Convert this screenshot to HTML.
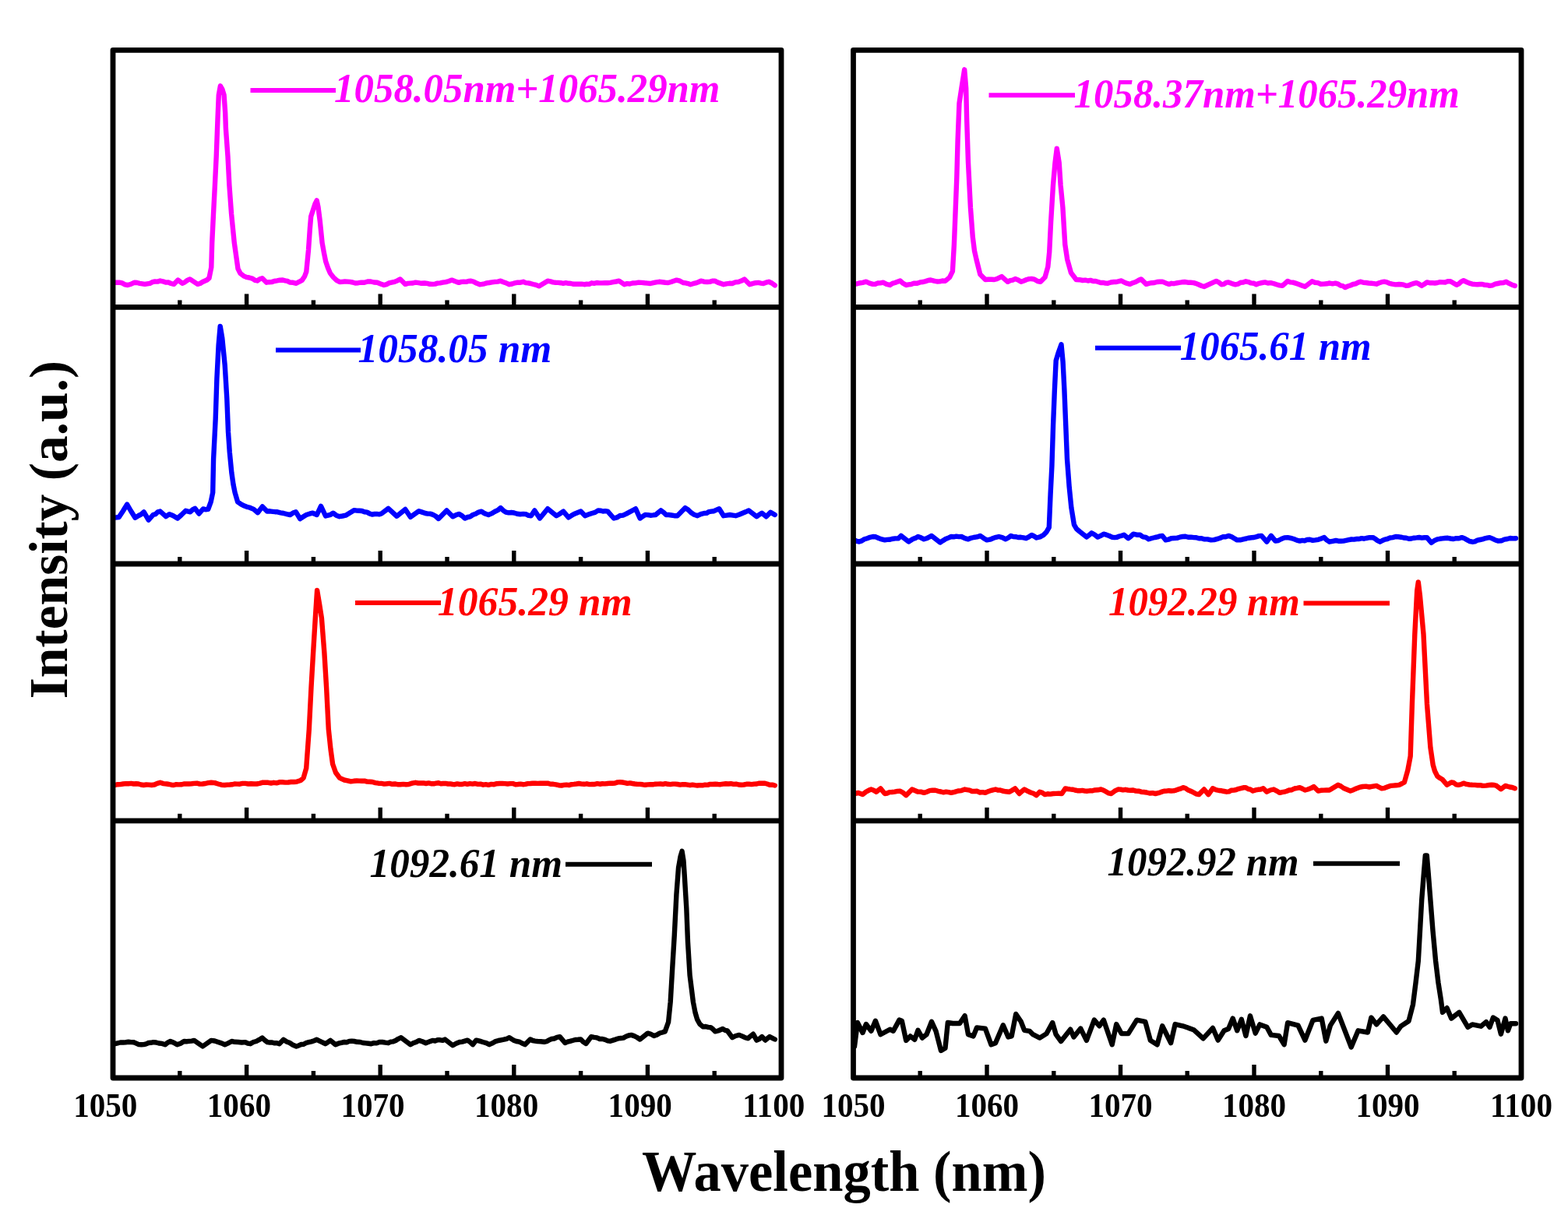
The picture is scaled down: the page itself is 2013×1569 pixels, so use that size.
<!DOCTYPE html>
<html><head><meta charset="utf-8"><title>Spectra</title>
<style>html,body{margin:0;padding:0;background:#fff;overflow:hidden;}svg{display:block;}</style>
</head><body>
<svg width="2013" height="1569" viewBox="0 0 2013 1569">
<rect width="2013" height="1569" fill="#fff"/>
<path d="M147.5,362.7 153.1,362.7 156.7,363.4 160.4,365.3 164.0,366.0 168.4,364.7 172.8,362.7 176.1,363.0 179.4,363.8 182.6,364.3 185.9,364.9 189.2,364.3 192.5,363.8 195.8,362.2 199.0,361.4 202.3,361.6 205.6,360.5 209.1,361.3 212.6,362.6 216.1,362.5 219.6,364.0 223.1,364.9 228.5,359.5 234.0,363.8 237.3,362.3 240.5,359.9 243.8,358.4 253.7,364.9 256.9,364.0 260.0,362.0 265.7,359.5 268.5,357.0 271.3,343.2 272.2,311.8 274.0,274.8 275.9,237.9 277.7,200.9 279.6,150.0 280.8,122.0 282.9,110.3 285.3,114.5 287.6,122.0 289.2,145.0 289.9,165.0 292.5,200.9 294.4,237.9 297.1,274.8 300.8,311.8 305.5,345.1 308.5,351.0 312.8,354.3 316.4,355.9 320.0,356.5 323.8,357.6 327.6,359.9 330.2,360.5 333.4,358.3 336.7,357.3 342.2,362.7 345.5,362.2 348.7,362.1 352.0,361.0 355.7,360.4 359.3,359.7 363.0,359.5 366.0,360.4 369.0,360.9 372.0,362.5 376.2,362.8 380.4,363.8 384.0,361.8 387.7,359.9 391.0,355.0 393.3,348.8 396.0,321.0 397.9,293.3 399.2,278.0 401.8,270.0 404.4,262.0 406.7,257.3 408.5,266.0 410.8,284.0 413.6,311.8 416.0,325.0 418.2,335.8 421.0,344.0 423.8,350.6 428.0,356.0 432.1,359.9 436.0,362.0 439.3,361.9 442.7,361.4 446.0,361.6 449.3,361.9 452.7,362.5 456.0,363.5 460.0,363.2 463.9,362.7 467.9,362.7 471.9,361.5 476.0,361.5 480.1,362.5 484.3,362.7 488.6,364.4 493.0,366.0 496.3,365.1 499.5,363.4 502.8,362.7 506.5,361.9 510.1,360.3 513.8,358.4 520.3,364.9 523.6,363.9 526.8,363.6 530.1,363.5 533.4,362.7 537.3,363.2 541.1,363.8 545.0,363.5 548.4,363.9 551.9,364.8 555.3,364.9 558.6,364.6 561.8,363.6 565.1,363.4 568.4,362.7 572.3,362.1 576.2,361.0 580.1,359.6 583.1,360.7 586.1,361.9 589.1,362.9 592.2,361.9 595.3,361.7 598.5,361.9 601.6,361.0 604.7,360.7 608.4,361.8 612.2,363.8 615.9,365.2 618.9,364.9 622.0,364.3 625.0,363.4 628.0,363.0 631.7,362.4 635.4,361.9 639.0,361.6 642.7,360.7 646.4,362.2 650.2,363.6 653.9,365.2 657.5,364.5 661.1,363.3 664.6,362.6 668.2,362.7 671.8,361.8 674.9,363.1 677.9,363.4 681.0,364.0 684.6,365.0 688.3,365.9 691.9,367.4 703.1,360.7 706.5,361.3 709.8,362.4 713.1,362.7 716.5,362.9 719.8,363.2 723.1,363.8 726.4,363.2 729.7,363.8 733.0,364.0 736.4,364.8 739.8,364.6 743.2,364.7 746.6,364.7 750.0,365.2 753.2,364.8 756.4,364.9 759.6,363.3 762.8,363.8 766.0,363.0 769.5,363.4 773.0,363.4 776.6,363.2 780.1,363.3 783.6,362.9 787.3,362.2 791.0,361.5 794.7,360.7 798.0,362.9 801.4,365.2 804.9,364.1 808.5,364.5 812.0,363.5 815.9,363.4 819.9,362.7 823.8,362.9 827.5,363.3 831.3,363.6 835.0,364.0 838.7,363.1 842.5,362.3 846.2,361.8 850.1,362.2 854.1,362.7 858.0,363.0 861.5,362.0 865.0,360.7 868.5,359.6 872.8,360.7 877.0,363.0 880.1,363.4 883.3,364.1 886.4,365.2 889.8,364.2 893.1,363.4 896.4,362.2 899.8,360.7 903.9,361.7 908.0,362.0 911.2,361.9 914.5,360.8 917.7,360.7 921.4,362.6 925.2,363.9 928.9,365.2 932.6,364.3 936.4,363.8 940.1,364.0 944.0,362.4 948.0,362.0 951.9,360.6 955.7,358.5 962.4,365.2 966.1,364.1 969.9,363.2 973.6,362.9 976.8,363.6 980.0,364.0 983.5,362.7 987.0,361.8 990.9,363.5 994.8,366.3" fill="none" stroke="#ff00ff" stroke-width="6.4" stroke-linejoin="round" stroke-linecap="round"/>
<path d="M147.5,664.7 152.7,664.0 158.0,656.0 163.1,647.6 168.0,656.0 173.5,664.7 178.0,662.0 181.3,660.4 184.7,657.3 190.7,667.7 196.6,661.0 199.6,660.2 202.6,657.3 205.6,656.5 213.0,663.2 217.5,660.2 222.0,662.0 227.9,665.5 233.0,661.0 238.4,655.8 244.3,657.3 247.3,654.4 250.3,652.8 255.5,659.5 260.7,653.5 263.9,654.2 267.2,653.9 270.7,644.4 273.2,632.4 274.1,589.3 276.7,537.7 278.4,486.1 280.6,443.0 282.7,418.9 285.3,434.4 287.0,451.6 288.7,468.8 291.3,511.9 293.0,554.9 294.8,580.7 297.3,606.5 299.5,622.0 301.6,632.4 305.1,644.4 309.4,647.4 313.7,649.6 316.9,650.8 320.0,651.5 325.7,653.9 330.9,658.2 336.9,650.4 342.9,656.5 346.4,656.3 350.0,656.8 353.1,657.2 356.1,657.3 360.1,658.3 364.0,659.0 368.2,660.1 372.5,661.0 376.2,658.6 379.9,657.3 385.2,666.2 389.2,663.5 393.3,661.0 397.4,659.7 401.5,658.7 406.8,661.0 412.0,649.8 418.0,662.5 421.2,661.6 424.4,660.8 427.6,658.7 431.7,661.7 435.8,663.2 439.8,662.5 443.8,661.7 454.8,655.1 458.1,655.6 461.4,655.8 464.6,656.0 467.9,657.3 471.2,657.6 474.4,659.4 477.7,660.6 480.7,660.0 483.7,659.9 486.7,660.4 489.7,659.5 498.5,652.9 509.4,662.8 520.3,654.0 526.9,663.8 537.8,656.2 541.9,657.6 546.0,659.0 549.1,659.6 552.2,659.6 555.3,660.6 559.1,662.5 563.0,666.0 573.4,655.4 581.2,663.3 585.2,661.3 589.1,659.9 593.0,662.1 596.9,665.5 600.3,664.0 603.6,663.3 607.0,661.0 610.7,659.8 614.4,657.6 618.1,656.6 621.1,658.7 624.1,660.0 627.1,661.0 631.0,659.4 635.0,657.0 638.9,655.2 642.7,652.1 646.0,655.3 649.4,657.7 652.9,658.4 656.5,658.0 660.0,658.5 663.9,659.7 667.9,660.2 671.8,659.9 675.1,660.1 678.5,661.8 681.8,662.2 686.3,655.4 693.0,665.5 703.1,653.2 714.3,662.2 718.8,659.7 723.2,656.6 729.9,664.4 733.5,662.1 737.0,660.0 741.3,658.3 745.6,656.6 751.1,662.2 755.5,660.6 760.0,659.0 764.0,657.9 767.9,655.4 771.0,655.7 774.0,656.5 777.1,656.1 780.2,656.6 788.0,665.5 792.0,664.4 796.0,662.0 799.9,661.6 803.7,659.9 816.0,653.2 821.6,665.5 825.0,663.2 828.3,661.0 831.6,661.1 835.0,661.7 838.4,661.4 841.7,661.0 845.0,658.2 848.4,655.4 851.8,657.8 855.1,661.0 858.5,661.0 862.0,661.5 865.8,662.2 869.6,662.2 879.7,652.1 883.4,654.5 887.0,658.0 891.2,660.8 895.4,662.2 899.7,660.2 904.0,659.0 907.1,658.9 910.1,657.1 913.2,656.6 916.6,656.2 919.9,654.7 923.3,653.2 928.9,662.2 933.0,661.6 937.0,661.0 940.8,661.6 944.5,662.2 948.8,660.8 953.0,659.0 957.1,657.3 961.3,655.4 971.4,663.3 974.8,660.7 978.1,658.8 983.7,663.3 989.2,657.7 994.8,661.0" fill="none" stroke="#0000ff" stroke-width="6.4" stroke-linejoin="round" stroke-linecap="round"/>
<path d="M147.5,1008.0 151.0,1007.2 154.5,1007.1 158.0,1006.5 161.5,1006.1 164.9,1006.2 168.4,1005.9 171.6,1006.5 174.7,1006.2 177.8,1006.5 181.0,1007.5 184.4,1008.0 187.8,1007.5 191.2,1007.6 194.6,1008.0 198.3,1007.5 201.9,1005.8 205.6,1004.8 209.8,1006.1 214.0,1006.5 217.0,1007.0 220.1,1007.7 223.1,1008.0 226.3,1007.2 229.6,1007.4 232.8,1007.3 236.0,1006.5 239.3,1006.4 242.7,1006.5 246.0,1006.3 249.3,1005.9 252.9,1005.6 256.4,1006.6 260.0,1006.5 263.7,1006.0 267.4,1005.1 271.1,1004.8 275.6,1005.1 280.0,1006.5 284.3,1007.7 288.6,1008.0 291.7,1007.6 294.8,1007.5 297.9,1007.3 301.0,1006.5 304.5,1006.6 307.9,1006.7 311.4,1005.9 314.9,1005.9 318.6,1006.5 322.3,1006.2 326.0,1006.5 329.6,1006.5 333.1,1005.8 336.7,1004.8 340.5,1004.6 344.2,1004.8 348.0,1005.5 351.5,1004.8 355.1,1005.3 358.6,1004.3 362.4,1004.3 366.2,1004.6 370.0,1004.5 373.6,1004.0 377.1,1004.0 380.7,1003.8 386.0,1002.0 389.6,998.9 393.2,986.4 396.8,936.4 399.5,882.9 402.1,838.2 404.8,793.6 407.1,757.9 410.0,775.0 412.9,793.6 416.4,838.2 419.1,882.9 421.8,936.4 424.5,962.0 427.1,981.0 431.0,992.0 436.1,998.9 442.0,1001.5 446.2,1002.3 450.4,1003.4 454.2,1002.8 458.0,1002.5 461.3,1002.6 464.6,1002.7 467.9,1002.6 471.3,1003.6 474.6,1003.8 478.0,1004.0 481.9,1005.1 485.8,1005.7 489.7,1005.9 493.2,1006.6 496.6,1006.3 500.1,1005.9 503.5,1006.8 507.0,1006.5 510.5,1007.2 514.1,1007.2 517.6,1006.9 521.2,1007.2 524.7,1007.0 529.0,1005.6 533.4,1004.8 536.8,1005.5 540.2,1005.5 543.6,1005.4 547.0,1006.0 550.2,1005.4 553.5,1006.2 556.8,1006.3 560.0,1005.6 563.0,1005.3 566.0,1006.3 569.0,1006.0 572.0,1005.9 575.0,1006.5 578.0,1006.4 581.0,1007.0 584.0,1007.2 587.0,1006.4 590.0,1007.0 593.3,1007.0 596.7,1006.1 600.0,1006.8 603.3,1006.1 606.7,1006.6 610.0,1006.0 613.4,1006.9 616.8,1006.7 620.3,1007.7 623.7,1007.2 627.1,1007.8 630.7,1006.9 634.3,1007.2 637.8,1006.2 641.4,1006.0 645.0,1006.0 648.3,1006.1 651.7,1006.5 655.0,1006.1 658.3,1006.1 661.7,1007.3 665.0,1007.0 668.2,1006.6 671.3,1007.2 674.5,1006.9 677.7,1006.1 680.8,1006.0 684.0,1005.8 687.2,1005.8 690.4,1005.9 693.5,1005.8 696.7,1005.7 699.9,1005.8 703.1,1005.6 706.7,1006.7 710.3,1006.8 713.8,1007.3 717.4,1008.2 721.0,1008.5 724.2,1007.9 727.3,1007.6 730.5,1008.1 733.7,1007.2 736.8,1006.9 740.0,1006.5 743.3,1006.0 746.7,1006.6 750.0,1006.8 753.3,1006.3 756.7,1007.1 760.0,1007.0 763.3,1007.0 766.7,1006.1 770.0,1006.7 773.3,1006.3 776.7,1006.4 780.0,1006.0 783.2,1005.6 786.4,1005.7 789.6,1005.5 792.8,1004.4 796.0,1004.2 799.2,1004.5 802.4,1005.1 805.5,1005.9 808.7,1005.4 811.8,1006.0 815.0,1006.5 818.3,1006.9 821.6,1006.9 825.0,1007.3 828.3,1007.8 831.6,1007.4 834.9,1007.2 838.1,1007.3 841.4,1006.7 844.7,1006.6 848.0,1006.5 851.1,1006.9 854.3,1006.1 857.4,1006.8 860.6,1007.1 863.7,1006.6 866.9,1006.6 870.0,1007.0 873.2,1007.6 876.4,1007.1 879.5,1007.2 882.7,1007.7 885.9,1008.2 889.0,1007.6 892.2,1008.1 895.4,1008.5 898.7,1008.1 901.9,1008.4 905.2,1007.7 908.5,1007.9 911.7,1006.9 915.0,1007.0 918.3,1006.7 921.7,1007.0 925.0,1007.2 928.3,1006.6 931.7,1006.3 935.0,1006.5 938.3,1006.2 941.7,1006.9 945.0,1006.6 948.3,1007.5 951.7,1007.7 955.0,1007.5 958.3,1006.8 961.6,1006.7 964.9,1007.1 968.2,1006.6 971.5,1006.5 974.8,1005.7 978.1,1005.6 981.4,1005.7 984.8,1006.5 988.1,1007.7 991.5,1007.6 994.8,1008.5" fill="none" stroke="#ff0000" stroke-width="6.4" stroke-linejoin="round" stroke-linecap="round"/>
<path d="M147.5,1340.2 151.0,1339.3 154.5,1338.5 158.0,1338.5 161.5,1338.2 164.9,1337.8 168.4,1338.1 171.7,1338.3 174.9,1339.6 178.2,1341.1 181.5,1341.3 184.6,1341.1 187.6,1340.4 190.7,1339.0 193.7,1338.8 196.8,1338.1 200.4,1338.5 204.0,1339.5 208.1,1339.9 212.1,1341.3 215.4,1338.6 218.7,1337.0 223.1,1338.8 227.4,1341.3 231.8,1339.7 236.2,1337.0 239.5,1337.2 242.8,1336.9 246.0,1336.6 249.3,1335.9 260.2,1343.5 271.1,1335.9 275.6,1336.5 280.0,1338.0 284.3,1339.4 288.6,1341.3 293.0,1339.3 297.4,1337.0 301.7,1337.8 306.0,1338.0 310.4,1338.5 314.9,1338.1 318.1,1339.7 321.4,1340.2 325.2,1338.0 329.0,1337.0 332.9,1334.9 336.7,1332.6 340.0,1335.6 343.3,1338.1 346.4,1338.5 349.4,1338.5 352.5,1339.3 355.5,1339.2 358.6,1340.2 364.0,1334.8 368.0,1337.5 372.0,1339.0 376.2,1341.8 380.4,1343.5 383.5,1342.4 386.7,1341.0 389.9,1340.7 393.0,1339.0 396.4,1338.1 399.9,1337.4 403.3,1336.3 406.7,1334.8 410.3,1336.6 414.0,1338.3 417.6,1340.2 420.9,1338.2 424.2,1335.9 427.4,1338.5 430.7,1341.3 434.5,1339.7 438.2,1338.8 442.0,1338.0 445.2,1338.2 448.4,1336.9 451.6,1336.6 454.8,1337.0 458.5,1337.8 462.3,1338.0 466.0,1339.0 469.5,1339.4 473.1,1339.8 476.6,1340.2 480.1,1339.2 483.5,1339.4 487.0,1338.0 490.8,1338.0 494.7,1338.7 498.5,1339.2 501.7,1337.7 504.8,1337.3 508.0,1336.0 511.4,1333.8 514.9,1332.2 526.9,1341.3 530.5,1339.3 534.2,1338.0 537.8,1335.9 542.2,1337.3 546.6,1339.2 551.0,1337.6 555.3,1335.9 558.6,1336.5 561.8,1335.3 565.1,1335.3 568.4,1335.9 571.2,1334.5 581.2,1342.3 585.6,1339.8 590.0,1338.0 593.4,1337.6 596.8,1336.6 600.2,1335.6 603.5,1338.0 606.9,1341.2 611.4,1335.6 615.7,1336.6 620.0,1338.0 624.1,1339.1 628.2,1341.2 632.1,1339.4 636.1,1337.1 640.0,1336.0 643.5,1335.3 647.0,1334.7 650.4,1333.8 653.9,1332.2 656.9,1334.1 660.0,1336.0 663.0,1337.0 666.7,1337.7 670.3,1339.5 674.0,1341.2 680.7,1334.5 683.8,1336.0 686.9,1336.6 690.0,1337.0 694.3,1337.3 698.6,1337.8 701.7,1337.2 704.9,1335.4 708.0,1334.0 711.6,1333.5 715.1,1331.8 718.7,1331.1 725.4,1339.0 728.6,1337.6 731.8,1336.9 735.0,1336.0 738.5,1335.0 742.1,1334.8 745.6,1334.5 749.0,1337.9 752.3,1340.0 759.0,1331.1 762.7,1331.8 766.3,1332.3 770.0,1334.0 773.4,1334.0 776.8,1334.9 780.2,1336.4 783.6,1336.7 787.0,1335.6 790.3,1334.6 793.6,1333.4 797.0,1333.0 800.4,1332.6 803.7,1330.8 807.0,1329.5 810.4,1328.9 814.1,1330.1 817.9,1332.0 821.6,1334.5 831.6,1326.6 835.5,1327.8 839.5,1330.0 843.2,1328.7 846.9,1326.5 850.6,1325.5 853.8,1324.4 858.1,1312.3 860.7,1286.5 863.2,1243.5 865.8,1200.5 868.4,1148.8 871.0,1114.4 873.5,1100.0 875.6,1092.9 877.5,1105.0 878.7,1123.0 881.3,1166.1 883.0,1209.1 885.6,1252.1 889.9,1286.5 892.5,1300.0 895.1,1308.9 898.5,1315.0 902.8,1318.4 906.0,1318.0 909.1,1318.9 912.3,1319.2 915.3,1321.4 918.3,1324.4 922.0,1323.5 927.8,1321.0 930.8,1322.9 933.8,1323.5 940.1,1332.2 944.5,1330.0 949.0,1328.9 952.7,1330.4 956.5,1332.2 960.2,1333.3 963.5,1330.4 966.9,1327.7 971.4,1335.6 974.8,1334.0 978.1,1331.1 982.5,1335.6 988.1,1331.1 991.5,1332.8 994.8,1334.5" fill="none" stroke="#000000" stroke-width="6.4" stroke-linejoin="round" stroke-linecap="round"/>
<path d="M1097.0,364.9 1100.0,364.3 1103.0,363.5 1107.5,362.8 1111.9,361.6 1116.2,363.6 1120.6,364.9 1123.8,364.7 1127.0,363.5 1130.3,363.4 1133.7,362.7 1138.1,364.9 1142.5,366.0 1145.8,363.9 1149.0,363.0 1152.3,361.7 1155.6,360.5 1159.4,363.8 1163.2,366.0 1166.5,365.4 1169.8,365.0 1173.1,363.8 1177.4,363.8 1181.2,362.4 1185.0,362.0 1188.3,361.1 1191.6,360.0 1194.9,359.5 1199.0,360.6 1203.0,361.5 1206.5,361.4 1209.9,360.5 1213.4,360.9 1219.1,356.1 1222.9,348.4 1224.9,314.0 1226.8,266.2 1228.3,228.0 1229.6,180.2 1231.5,132.4 1234.4,113.2 1238.2,89.3 1240.2,113.2 1241.1,151.5 1243.0,208.8 1245.9,266.2 1248.8,304.4 1251.0,322.0 1253.5,333.1 1258.3,352.2 1265.0,359.0 1268.8,358.7 1272.7,358.7 1276.5,359.0 1279.7,358.2 1282.8,356.7 1286.0,355.1 1293.7,361.8 1296.9,360.1 1300.1,359.6 1303.3,358.0 1307.1,359.5 1310.9,361.8 1314.5,360.5 1318.0,359.0 1321.2,358.1 1324.3,358.0 1328.1,358.7 1332.0,361.0 1335.8,361.8 1341.5,356.1 1345.3,342.7 1347.2,323.6 1349.1,285.3 1352.0,237.5 1354.5,208.8 1356.8,190.7 1359.7,208.8 1361.6,237.5 1364.4,266.2 1367.3,314.0 1370.2,333.1 1375.0,350.3 1381.6,359.0 1385.8,359.2 1390.0,360.0 1393.3,359.6 1396.7,360.5 1400.0,359.9 1403.3,361.0 1406.7,361.0 1410.0,362.0 1413.0,363.0 1416.1,362.9 1419.2,363.6 1422.2,363.8 1426.1,362.5 1430.0,362.0 1433.2,362.0 1436.5,361.2 1439.7,360.5 1443.4,362.5 1447.0,363.9 1450.7,364.9 1454.3,363.2 1458.0,362.0 1461.5,360.0 1464.9,358.4 1471.5,364.9 1475.0,363.9 1478.5,363.2 1482.0,363.0 1485.4,362.0 1488.8,361.8 1492.2,361.6 1496.6,363.4 1500.9,364.9 1503.9,363.8 1507.0,364.2 1510.0,363.5 1513.7,362.8 1517.3,362.3 1521.0,362.0 1524.8,362.7 1528.6,362.7 1532.4,363.1 1535.8,364.1 1539.1,365.5 1542.5,367.0 1545.8,368.0 1561.4,360.9 1564.8,362.6 1568.1,365.3 1571.1,364.9 1574.1,362.8 1577.1,362.4 1581.5,364.1 1586.0,365.3 1589.3,364.7 1592.7,362.7 1596.1,362.6 1599.4,361.3 1602.8,362.1 1606.1,363.4 1609.5,363.7 1612.8,365.3 1616.5,363.8 1620.3,363.0 1624.0,362.4 1627.7,363.5 1631.3,363.1 1635.0,364.0 1638.8,365.3 1642.6,366.4 1646.4,366.9 1653.1,360.9 1656.4,362.4 1659.8,362.6 1663.2,363.6 1666.5,364.7 1671.0,366.4 1675.4,368.0 1684.4,361.3 1688.1,362.8 1691.9,363.1 1695.6,364.7 1699.4,364.6 1703.2,364.3 1707.0,363.5 1710.6,364.3 1714.3,363.7 1717.9,364.7 1720.9,366.7 1723.9,367.1 1726.9,369.1 1730.3,367.5 1733.6,366.5 1737.0,365.0 1740.3,364.4 1743.7,362.6 1747.0,361.7 1750.3,362.8 1753.7,363.0 1757.0,363.5 1760.4,363.7 1763.7,364.1 1767.1,364.7 1770.5,363.3 1773.8,362.2 1777.2,361.7 1780.5,362.3 1783.9,363.9 1787.2,364.7 1791.6,365.4 1796.0,365.0 1799.0,365.2 1802.1,365.7 1805.1,366.9 1808.4,366.5 1811.8,365.0 1815.2,363.9 1818.5,363.1 1821.8,364.7 1825.2,366.9 1828.6,364.8 1831.9,362.4 1835.3,363.2 1838.6,363.1 1842.0,363.5 1845.3,363.0 1848.7,362.2 1852.0,362.4 1855.4,362.5 1858.7,361.1 1862.1,361.3 1866.0,363.5 1869.9,365.8 1872.9,364.3 1875.9,361.6 1878.9,360.2 1882.6,362.0 1886.4,363.7 1890.1,364.7 1893.4,365.0 1896.7,365.2 1900.0,365.0 1903.1,365.0 1906.2,365.9 1909.3,366.0 1912.4,366.9 1915.9,366.3 1919.5,364.7 1923.0,364.0 1926.6,363.2 1930.1,363.1 1933.7,361.7 1937.4,363.9 1941.1,365.7 1944.8,366.9" fill="none" stroke="#ff00ff" stroke-width="6.4" stroke-linejoin="round" stroke-linecap="round"/>
<path d="M1097.0,693.4 1100.0,694.9 1103.1,695.5 1106.4,694.4 1109.7,692.3 1113.3,691.2 1117.0,689.8 1120.6,689.0 1124.3,689.3 1128.0,691.0 1132.0,692.4 1135.9,693.4 1138.9,692.9 1142.0,692.8 1145.0,692.0 1149.2,691.4 1153.4,691.2 1156.7,687.9 1166.5,695.5 1172.0,692.0 1175.2,690.9 1178.5,689.0 1182.3,690.3 1186.2,692.3 1189.5,691.3 1192.7,689.7 1196.0,687.9 1206.9,696.6 1210.5,694.2 1214.0,692.0 1217.5,690.6 1221.1,689.0 1224.4,689.3 1227.7,688.6 1231.0,689.1 1234.3,689.0 1238.7,691.1 1243.0,692.3 1246.5,690.8 1250.0,690.0 1254.2,689.4 1258.3,687.9 1262.7,690.9 1267.0,693.4 1271.0,692.7 1275.0,691.0 1278.7,689.8 1282.3,689.0 1286.7,690.1 1291.1,692.3 1294.4,690.5 1297.7,687.9 1300.8,689.0 1303.9,689.2 1307.0,690.0 1310.4,689.8 1313.9,690.4 1317.3,691.2 1320.9,689.3 1324.5,687.0 1327.6,688.5 1330.7,690.5 1335.2,689.4 1339.6,687.0 1343.5,683.0 1346.8,677.1 1348.6,634.3 1350.4,598.6 1352.1,545.0 1353.9,500.4 1355.7,462.9 1358.4,453.9 1362.5,442.3 1364.6,464.6 1366.4,500.4 1368.2,545.0 1370.0,589.6 1372.7,625.4 1375.4,652.1 1378.9,673.6 1382.0,679.0 1386.1,682.5 1395.0,689.6 1398.2,687.1 1401.3,684.3 1405.3,686.5 1409.3,689.6 1413.0,687.9 1416.8,685.7 1420.4,686.7 1424.0,688.0 1427.5,689.7 1431.0,690.1 1434.0,689.8 1437.0,688.5 1440.0,687.8 1443.0,686.8 1448.5,691.2 1451.8,688.7 1455.0,685.7 1459.4,686.7 1463.8,686.8 1467.4,689.3 1471.1,689.8 1474.7,692.3 1478.8,691.0 1483.0,690.0 1486.1,689.4 1489.1,688.3 1492.2,687.9 1496.6,693.4 1500.1,692.7 1503.5,691.2 1507.0,691.0 1510.8,690.9 1514.6,689.7 1518.4,689.0 1521.9,688.7 1525.4,689.8 1528.9,689.6 1532.4,690.1 1535.8,690.2 1539.1,691.2 1542.5,691.2 1545.8,692.3 1550.2,692.4 1554.7,693.4 1558.5,693.1 1562.2,692.1 1566.0,691.0 1569.7,689.3 1573.4,689.3 1577.1,687.9 1580.8,689.1 1584.5,691.3 1588.2,693.4 1592.1,693.3 1596.1,692.3 1600.0,691.5 1603.3,690.7 1606.7,690.3 1610.0,690.0 1613.2,689.1 1616.3,688.1 1619.5,687.9 1626.3,695.7 1631.8,687.9 1637.4,694.6 1641.2,694.0 1645.0,692.0 1649.0,690.4 1653.1,690.1 1657.0,690.9 1661.0,692.0 1664.8,693.6 1668.7,694.6 1671.8,693.9 1674.9,694.2 1678.0,693.0 1681.6,692.8 1685.2,693.9 1688.8,693.4 1692.5,692.8 1696.3,691.4 1700.0,690.1 1703.3,693.4 1706.7,695.7 1710.8,694.8 1715.0,694.0 1718.2,694.7 1721.4,694.8 1724.6,694.6 1728.1,693.9 1731.5,693.2 1735.0,692.5 1738.3,692.6 1741.7,692.0 1745.0,692.0 1748.0,691.1 1751.0,691.7 1754.0,691.0 1758.3,690.2 1762.6,690.1 1765.6,691.9 1768.6,694.2 1771.6,695.7 1774.7,694.0 1777.9,692.6 1781.0,692.0 1784.6,690.5 1788.1,690.1 1791.7,689.0 1795.1,689.3 1798.6,689.7 1802.0,690.5 1805.3,690.8 1808.7,691.8 1812.0,691.5 1815.3,690.7 1818.7,690.4 1822.0,690.0 1825.3,690.6 1828.6,690.2 1831.9,690.1 1837.5,696.8 1841.4,694.2 1845.3,692.3 1848.5,691.8 1851.8,691.4 1855.0,691.0 1858.7,690.8 1862.3,691.5 1866.0,692.0 1869.5,691.1 1873.1,691.2 1876.6,690.1 1880.0,691.3 1883.3,693.1 1886.7,695.0 1890.1,695.7 1893.4,695.4 1896.7,693.7 1900.0,693.0 1903.1,692.4 1906.2,691.3 1909.3,690.7 1912.4,690.1 1916.1,691.6 1919.9,693.5 1923.6,694.6 1927.4,694.3 1931.2,692.6 1935.0,692.0 1938.7,691.0 1942.3,691.4 1946.0,691.2" fill="none" stroke="#0000ff" stroke-width="6.4" stroke-linejoin="round" stroke-linecap="round"/>
<path d="M1097.0,1019.0 1102.0,1018.0 1107.5,1020.1 1112.0,1016.5 1115.2,1014.8 1118.4,1013.5 1121.7,1014.7 1125.0,1016.8 1130.4,1012.4 1135.9,1019.0 1138.9,1018.5 1142.0,1017.1 1145.0,1017.0 1148.5,1016.6 1152.1,1015.9 1155.6,1015.7 1159.4,1017.8 1163.2,1021.2 1170.9,1013.5 1174.5,1015.0 1178.0,1016.5 1182.1,1016.6 1186.2,1017.9 1189.8,1016.7 1193.5,1015.1 1197.1,1014.6 1200.7,1014.7 1204.4,1015.8 1208.0,1016.5 1211.3,1017.3 1214.5,1016.7 1217.8,1017.2 1221.1,1017.9 1225.5,1016.9 1230.0,1015.5 1234.3,1015.1 1238.6,1013.5 1241.7,1014.2 1244.8,1014.6 1247.9,1016.0 1251.0,1016.0 1254.5,1015.8 1258.0,1017.5 1261.4,1017.1 1264.9,1017.9 1268.2,1016.3 1271.5,1015.2 1274.7,1014.3 1278.0,1013.5 1281.0,1014.6 1284.0,1014.4 1287.0,1015.5 1291.2,1016.3 1295.5,1016.8 1299.3,1014.8 1303.1,1012.4 1308.6,1019.0 1311.8,1016.1 1315.1,1013.5 1319.0,1015.6 1323.0,1017.5 1326.7,1018.7 1330.4,1021.2 1334.8,1016.8 1338.1,1017.8 1341.4,1020.1 1344.9,1019.3 1348.5,1019.6 1352.0,1019.0 1355.7,1018.9 1359.5,1018.7 1363.2,1019.0 1367.6,1012.4 1370.7,1013.0 1373.8,1013.4 1376.9,1013.7 1380.0,1014.5 1383.2,1015.2 1386.4,1015.3 1389.6,1014.9 1392.8,1015.6 1396.0,1015.7 1399.0,1015.3 1402.0,1015.4 1405.0,1014.5 1409.2,1014.3 1413.5,1013.5 1416.8,1014.7 1420.0,1016.5 1423.3,1018.4 1426.6,1019.0 1431.0,1015.7 1435.4,1013.5 1438.6,1013.6 1441.7,1014.4 1444.8,1013.8 1448.0,1014.5 1451.4,1014.8 1454.8,1014.5 1458.2,1015.6 1461.6,1015.7 1465.1,1016.7 1468.5,1017.0 1472.0,1017.5 1475.8,1018.5 1479.6,1018.2 1483.4,1019.0 1487.1,1018.2 1490.7,1016.9 1494.4,1015.7 1497.5,1015.6 1500.5,1015.2 1503.6,1015.5 1506.6,1015.4 1509.7,1014.6 1512.8,1013.4 1515.8,1012.6 1518.9,1011.2 1521.9,1012.0 1525.0,1014.3 1528.0,1015.5 1531.7,1017.2 1535.4,1019.3 1539.1,1020.1 1545.8,1013.5 1551.4,1020.1 1556.9,1012.3 1561.0,1014.1 1565.0,1015.0 1568.3,1015.3 1571.5,1016.0 1574.8,1016.7 1577.8,1016.3 1580.9,1014.7 1584.0,1014.6 1587.0,1014.0 1590.1,1012.8 1593.2,1012.1 1596.3,1011.3 1599.4,1011.2 1602.4,1013.0 1605.4,1013.6 1608.4,1015.6 1611.8,1014.4 1615.1,1013.8 1618.5,1013.6 1621.8,1012.3 1626.3,1016.7 1630.8,1014.5 1635.2,1013.5 1639.1,1015.6 1643.0,1017.9 1646.0,1017.1 1649.0,1016.7 1652.0,1015.8 1655.0,1014.5 1658.4,1014.2 1661.8,1012.5 1665.3,1011.9 1668.7,1011.2 1672.1,1012.7 1675.4,1014.5 1679.1,1013.5 1682.9,1012.1 1686.6,1010.0 1692.2,1015.6 1695.8,1014.8 1699.5,1014.6 1703.1,1014.4 1706.7,1014.5 1717.9,1007.8 1721.5,1009.5 1725.0,1012.0 1729.3,1013.8 1733.6,1015.6 1737.3,1014.2 1741.0,1012.5 1745.1,1010.9 1749.2,1010.0 1753.6,1009.6 1758.0,1010.5 1761.0,1009.9 1764.1,1009.3 1767.1,1008.9 1770.4,1010.7 1773.8,1012.3 1777.5,1011.8 1781.3,1010.3 1785.0,1008.9 1788.7,1008.6 1792.5,1008.3 1796.2,1007.8 1800.0,1006.0 1802.9,1004.5 1807.3,988.8 1810.7,970.9 1812.9,903.9 1816.3,814.4 1819.2,758.5 1820.8,747.4 1823.0,765.2 1827.5,814.4 1832.0,903.9 1836.4,959.7 1839.7,982.1 1842.0,990.0 1845.3,996.6 1848.7,999.1 1852.0,1001.1 1857.6,1007.8 1863.2,1004.5 1866.2,1005.0 1869.2,1007.3 1872.2,1007.8 1875.6,1007.1 1878.9,1005.6 1882.6,1006.9 1886.4,1007.5 1890.1,1007.8 1893.4,1007.9 1896.8,1008.2 1900.2,1008.1 1903.5,1008.9 1907.8,1008.6 1912.0,1008.0 1915.1,1007.7 1918.2,1008.0 1921.3,1008.9 1926.9,1013.3 1932.5,1008.9 1938.0,1010.5 1941.4,1011.0 1944.8,1012.3" fill="none" stroke="#ff0000" stroke-width="6.4" stroke-linejoin="round" stroke-linecap="round"/>
<path d="M1097.0,1343.5 1100.9,1313.0 1107.5,1326.0 1111.9,1315.0 1118.4,1323.8 1123.9,1310.7 1130.4,1328.2 1142.5,1321.7 1146.8,1323.8 1154.5,1309.6 1157.8,1310.7 1163.2,1335.9 1168.7,1330.4 1174.2,1334.8 1178.5,1322.8 1184.0,1332.6 1189.5,1328.2 1196.0,1311.8 1201.5,1323.8 1208.0,1349.0 1213.5,1345.7 1216.8,1313.0 1223.3,1314.0 1232.1,1314.0 1238.6,1304.2 1243.0,1328.2 1249.6,1330.4 1254.0,1319.5 1264.9,1320.6 1272.5,1341.3 1278.0,1339.2 1287.8,1316.2 1294.4,1331.5 1298.7,1330.4 1304.2,1302.0 1310.8,1311.8 1315.1,1322.8 1321.7,1323.8 1326.1,1328.2 1334.8,1332.6 1343.6,1327.1 1351.2,1313.0 1355.6,1328.2 1362.1,1337.0 1374.2,1321.7 1378.5,1331.5 1387.3,1320.6 1394.9,1335.9 1404.8,1309.6 1411.3,1317.3 1416.8,1309.6 1427.7,1341.3 1433.2,1315.1 1439.7,1327.1 1448.5,1327.1 1459.4,1309.6 1470.3,1311.8 1476.9,1335.9 1485.6,1341.3 1492.2,1317.3 1496.6,1326.0 1503.1,1339.2 1508.6,1315.1 1518.4,1317.3 1532.4,1322.2 1544.7,1333.3 1557.0,1320.0 1563.7,1335.6 1571.5,1323.3 1577.1,1321.0 1582.7,1307.6 1588.2,1323.3 1593.8,1308.8 1599.4,1330.0 1605.0,1304.3 1611.7,1326.6 1617.3,1315.4 1626.3,1318.8 1631.8,1328.9 1641.9,1330.0 1648.6,1341.2 1653.1,1313.2 1666.5,1316.6 1675.4,1335.6 1685.5,1309.9 1696.7,1307.6 1702.3,1336.7 1707.9,1316.6 1717.9,1300.9 1734.7,1344.5 1743.6,1323.3 1755.9,1325.5 1760.4,1306.5 1767.1,1315.4 1776.0,1305.4 1792.8,1325.5 1798.4,1317.7 1808.5,1311.0 1814.0,1289.7 1817.5,1262.0 1820.8,1233.9 1823.0,1195.0 1825.2,1155.6 1828.0,1120.0 1829.8,1098.5 1831.8,1098.5 1833.6,1120.0 1836.4,1155.6 1839.5,1195.0 1843.1,1233.9 1846.5,1262.0 1849.8,1283.0 1852.0,1299.8 1857.6,1294.2 1863.2,1307.6 1873.3,1299.8 1884.5,1318.8 1890.1,1315.4 1901.2,1317.7 1907.9,1312.1 1912.4,1318.8 1916.9,1306.5 1922.5,1309.9 1926.9,1327.7 1932.5,1307.6 1935.9,1323.3 1939.2,1314.3 1946.0,1314.3" fill="none" stroke="#000000" stroke-width="6.4" stroke-linejoin="round" stroke-linecap="round"/>
<rect x="145.0" y="64.3" width="858.0" height="1319.7" fill="none" stroke="#000" stroke-width="6.8" stroke-linejoin="round"/>
<line x1="145.0" y1="394.4" x2="1003.0" y2="394.4" stroke="#000" stroke-width="6.8"/>
<line x1="145.0" y1="724.0" x2="1003.0" y2="724.0" stroke="#000" stroke-width="6.8"/>
<line x1="145.0" y1="1053.8" x2="1003.0" y2="1053.8" stroke="#000" stroke-width="6.8"/>
<line x1="230.8" y1="394.4" x2="230.8" y2="385.4" stroke="#000" stroke-width="5.4"/>
<line x1="316.6" y1="394.4" x2="316.6" y2="377.4" stroke="#000" stroke-width="5.4"/>
<line x1="402.4" y1="394.4" x2="402.4" y2="385.4" stroke="#000" stroke-width="5.4"/>
<line x1="488.2" y1="394.4" x2="488.2" y2="377.4" stroke="#000" stroke-width="5.4"/>
<line x1="574.0" y1="394.4" x2="574.0" y2="385.4" stroke="#000" stroke-width="5.4"/>
<line x1="659.8" y1="394.4" x2="659.8" y2="377.4" stroke="#000" stroke-width="5.4"/>
<line x1="745.6" y1="394.4" x2="745.6" y2="385.4" stroke="#000" stroke-width="5.4"/>
<line x1="831.4" y1="394.4" x2="831.4" y2="377.4" stroke="#000" stroke-width="5.4"/>
<line x1="917.2" y1="394.4" x2="917.2" y2="385.4" stroke="#000" stroke-width="5.4"/>
<line x1="230.8" y1="724.0" x2="230.8" y2="715.0" stroke="#000" stroke-width="5.4"/>
<line x1="316.6" y1="724.0" x2="316.6" y2="707.0" stroke="#000" stroke-width="5.4"/>
<line x1="402.4" y1="724.0" x2="402.4" y2="715.0" stroke="#000" stroke-width="5.4"/>
<line x1="488.2" y1="724.0" x2="488.2" y2="707.0" stroke="#000" stroke-width="5.4"/>
<line x1="574.0" y1="724.0" x2="574.0" y2="715.0" stroke="#000" stroke-width="5.4"/>
<line x1="659.8" y1="724.0" x2="659.8" y2="707.0" stroke="#000" stroke-width="5.4"/>
<line x1="745.6" y1="724.0" x2="745.6" y2="715.0" stroke="#000" stroke-width="5.4"/>
<line x1="831.4" y1="724.0" x2="831.4" y2="707.0" stroke="#000" stroke-width="5.4"/>
<line x1="917.2" y1="724.0" x2="917.2" y2="715.0" stroke="#000" stroke-width="5.4"/>
<line x1="230.8" y1="1053.8" x2="230.8" y2="1044.8" stroke="#000" stroke-width="5.4"/>
<line x1="316.6" y1="1053.8" x2="316.6" y2="1036.8" stroke="#000" stroke-width="5.4"/>
<line x1="402.4" y1="1053.8" x2="402.4" y2="1044.8" stroke="#000" stroke-width="5.4"/>
<line x1="488.2" y1="1053.8" x2="488.2" y2="1036.8" stroke="#000" stroke-width="5.4"/>
<line x1="574.0" y1="1053.8" x2="574.0" y2="1044.8" stroke="#000" stroke-width="5.4"/>
<line x1="659.8" y1="1053.8" x2="659.8" y2="1036.8" stroke="#000" stroke-width="5.4"/>
<line x1="745.6" y1="1053.8" x2="745.6" y2="1044.8" stroke="#000" stroke-width="5.4"/>
<line x1="831.4" y1="1053.8" x2="831.4" y2="1036.8" stroke="#000" stroke-width="5.4"/>
<line x1="917.2" y1="1053.8" x2="917.2" y2="1044.8" stroke="#000" stroke-width="5.4"/>
<line x1="230.8" y1="1384.0" x2="230.8" y2="1375.0" stroke="#000" stroke-width="5.4"/>
<line x1="316.6" y1="1384.0" x2="316.6" y2="1367.0" stroke="#000" stroke-width="5.4"/>
<line x1="402.4" y1="1384.0" x2="402.4" y2="1375.0" stroke="#000" stroke-width="5.4"/>
<line x1="488.2" y1="1384.0" x2="488.2" y2="1367.0" stroke="#000" stroke-width="5.4"/>
<line x1="574.0" y1="1384.0" x2="574.0" y2="1375.0" stroke="#000" stroke-width="5.4"/>
<line x1="659.8" y1="1384.0" x2="659.8" y2="1367.0" stroke="#000" stroke-width="5.4"/>
<line x1="745.6" y1="1384.0" x2="745.6" y2="1375.0" stroke="#000" stroke-width="5.4"/>
<line x1="831.4" y1="1384.0" x2="831.4" y2="1367.0" stroke="#000" stroke-width="5.4"/>
<line x1="917.2" y1="1384.0" x2="917.2" y2="1375.0" stroke="#000" stroke-width="5.4"/>
<rect x="1095.5" y="64.3" width="857.5" height="1319.7" fill="none" stroke="#000" stroke-width="6.8" stroke-linejoin="round"/>
<line x1="1095.5" y1="394.4" x2="1953.0" y2="394.4" stroke="#000" stroke-width="6.8"/>
<line x1="1095.5" y1="724.0" x2="1953.0" y2="724.0" stroke="#000" stroke-width="6.8"/>
<line x1="1095.5" y1="1053.8" x2="1953.0" y2="1053.8" stroke="#000" stroke-width="6.8"/>
<line x1="1181.2" y1="394.4" x2="1181.2" y2="385.4" stroke="#000" stroke-width="5.4"/>
<line x1="1267.0" y1="394.4" x2="1267.0" y2="377.4" stroke="#000" stroke-width="5.4"/>
<line x1="1352.8" y1="394.4" x2="1352.8" y2="385.4" stroke="#000" stroke-width="5.4"/>
<line x1="1438.5" y1="394.4" x2="1438.5" y2="377.4" stroke="#000" stroke-width="5.4"/>
<line x1="1524.2" y1="394.4" x2="1524.2" y2="385.4" stroke="#000" stroke-width="5.4"/>
<line x1="1610.0" y1="394.4" x2="1610.0" y2="377.4" stroke="#000" stroke-width="5.4"/>
<line x1="1695.8" y1="394.4" x2="1695.8" y2="385.4" stroke="#000" stroke-width="5.4"/>
<line x1="1781.5" y1="394.4" x2="1781.5" y2="377.4" stroke="#000" stroke-width="5.4"/>
<line x1="1867.2" y1="394.4" x2="1867.2" y2="385.4" stroke="#000" stroke-width="5.4"/>
<line x1="1181.2" y1="724.0" x2="1181.2" y2="715.0" stroke="#000" stroke-width="5.4"/>
<line x1="1267.0" y1="724.0" x2="1267.0" y2="707.0" stroke="#000" stroke-width="5.4"/>
<line x1="1352.8" y1="724.0" x2="1352.8" y2="715.0" stroke="#000" stroke-width="5.4"/>
<line x1="1438.5" y1="724.0" x2="1438.5" y2="707.0" stroke="#000" stroke-width="5.4"/>
<line x1="1524.2" y1="724.0" x2="1524.2" y2="715.0" stroke="#000" stroke-width="5.4"/>
<line x1="1610.0" y1="724.0" x2="1610.0" y2="707.0" stroke="#000" stroke-width="5.4"/>
<line x1="1695.8" y1="724.0" x2="1695.8" y2="715.0" stroke="#000" stroke-width="5.4"/>
<line x1="1781.5" y1="724.0" x2="1781.5" y2="707.0" stroke="#000" stroke-width="5.4"/>
<line x1="1867.2" y1="724.0" x2="1867.2" y2="715.0" stroke="#000" stroke-width="5.4"/>
<line x1="1181.2" y1="1053.8" x2="1181.2" y2="1044.8" stroke="#000" stroke-width="5.4"/>
<line x1="1267.0" y1="1053.8" x2="1267.0" y2="1036.8" stroke="#000" stroke-width="5.4"/>
<line x1="1352.8" y1="1053.8" x2="1352.8" y2="1044.8" stroke="#000" stroke-width="5.4"/>
<line x1="1438.5" y1="1053.8" x2="1438.5" y2="1036.8" stroke="#000" stroke-width="5.4"/>
<line x1="1524.2" y1="1053.8" x2="1524.2" y2="1044.8" stroke="#000" stroke-width="5.4"/>
<line x1="1610.0" y1="1053.8" x2="1610.0" y2="1036.8" stroke="#000" stroke-width="5.4"/>
<line x1="1695.8" y1="1053.8" x2="1695.8" y2="1044.8" stroke="#000" stroke-width="5.4"/>
<line x1="1781.5" y1="1053.8" x2="1781.5" y2="1036.8" stroke="#000" stroke-width="5.4"/>
<line x1="1867.2" y1="1053.8" x2="1867.2" y2="1044.8" stroke="#000" stroke-width="5.4"/>
<line x1="1181.2" y1="1384.0" x2="1181.2" y2="1375.0" stroke="#000" stroke-width="5.4"/>
<line x1="1267.0" y1="1384.0" x2="1267.0" y2="1367.0" stroke="#000" stroke-width="5.4"/>
<line x1="1352.8" y1="1384.0" x2="1352.8" y2="1375.0" stroke="#000" stroke-width="5.4"/>
<line x1="1438.5" y1="1384.0" x2="1438.5" y2="1367.0" stroke="#000" stroke-width="5.4"/>
<line x1="1524.2" y1="1384.0" x2="1524.2" y2="1375.0" stroke="#000" stroke-width="5.4"/>
<line x1="1610.0" y1="1384.0" x2="1610.0" y2="1367.0" stroke="#000" stroke-width="5.4"/>
<line x1="1695.8" y1="1384.0" x2="1695.8" y2="1375.0" stroke="#000" stroke-width="5.4"/>
<line x1="1781.5" y1="1384.0" x2="1781.5" y2="1367.0" stroke="#000" stroke-width="5.4"/>
<line x1="1867.2" y1="1384.0" x2="1867.2" y2="1375.0" stroke="#000" stroke-width="5.4"/>
<text transform="translate(135.3,1434.1) scale(0.945,1)" text-anchor="middle" style="font-family:'Liberation Serif','Times New Roman',serif;font-weight:bold;font-size:43.5px">1050</text>
<text transform="translate(1095.5,1434.1) scale(0.945,1)" text-anchor="middle" style="font-family:'Liberation Serif','Times New Roman',serif;font-weight:bold;font-size:43.5px">1050</text>
<text transform="translate(306.9,1434.1) scale(0.945,1)" text-anchor="middle" style="font-family:'Liberation Serif','Times New Roman',serif;font-weight:bold;font-size:43.5px">1060</text>
<text transform="translate(1267.0,1434.1) scale(0.945,1)" text-anchor="middle" style="font-family:'Liberation Serif','Times New Roman',serif;font-weight:bold;font-size:43.5px">1060</text>
<text transform="translate(478.5,1434.1) scale(0.945,1)" text-anchor="middle" style="font-family:'Liberation Serif','Times New Roman',serif;font-weight:bold;font-size:43.5px">1070</text>
<text transform="translate(1438.5,1434.1) scale(0.945,1)" text-anchor="middle" style="font-family:'Liberation Serif','Times New Roman',serif;font-weight:bold;font-size:43.5px">1070</text>
<text transform="translate(650.1,1434.1) scale(0.945,1)" text-anchor="middle" style="font-family:'Liberation Serif','Times New Roman',serif;font-weight:bold;font-size:43.5px">1080</text>
<text transform="translate(1610.0,1434.1) scale(0.945,1)" text-anchor="middle" style="font-family:'Liberation Serif','Times New Roman',serif;font-weight:bold;font-size:43.5px">1080</text>
<text transform="translate(821.7,1434.1) scale(0.945,1)" text-anchor="middle" style="font-family:'Liberation Serif','Times New Roman',serif;font-weight:bold;font-size:43.5px">1090</text>
<text transform="translate(1781.5,1434.1) scale(0.945,1)" text-anchor="middle" style="font-family:'Liberation Serif','Times New Roman',serif;font-weight:bold;font-size:43.5px">1090</text>
<text transform="translate(993.3,1434.1) scale(0.945,1)" text-anchor="middle" style="font-family:'Liberation Serif','Times New Roman',serif;font-weight:bold;font-size:43.5px">1100</text>
<text transform="translate(1953.0,1434.1) scale(0.945,1)" text-anchor="middle" style="font-family:'Liberation Serif','Times New Roman',serif;font-weight:bold;font-size:43.5px">1100</text>
<text transform="translate(1083.4,1529.3) scale(0.966,1)" text-anchor="middle" style="font-family:'Liberation Serif','Times New Roman',serif;font-weight:bold;font-size:73px">Wavelength (nm)</text>
<text transform="translate(85.5,680) rotate(-90)" x="0" y="0" text-anchor="middle" style="font-family:'Liberation Serif','Times New Roman',serif;font-weight:bold;font-size:69.5px">Intensity (a.u.)</text>
<line x1="321.5" y1="116" x2="431" y2="116" stroke="#ff00ff" stroke-width="6"/>
<text transform="translate(429.1,130.5) scale(0.96,1)" x="0" y="0" fill="#ff00ff" style="font-family:'Liberation Serif','Times New Roman',serif;font-weight:bold;font-style:italic;font-size:53px">1058.05nm+1065.29nm</text>
<line x1="354" y1="449.4" x2="463" y2="449.4" stroke="#0000ff" stroke-width="6"/>
<text transform="translate(459.6,465) scale(0.971,1)" x="0" y="0" fill="#0000ff" style="font-family:'Liberation Serif','Times New Roman',serif;font-weight:bold;font-style:italic;font-size:53px">1058.05 nm</text>
<line x1="456" y1="774.1" x2="566" y2="774.1" stroke="#ff0000" stroke-width="6"/>
<text transform="translate(561.8,790) scale(0.976,1)" x="0" y="0" fill="#ff0000" style="font-family:'Liberation Serif','Times New Roman',serif;font-weight:bold;font-style:italic;font-size:53px">1065.29 nm</text>
<line x1="726" y1="1109.8" x2="837" y2="1109.8" stroke="#000000" stroke-width="6"/>
<text transform="translate(474.6,1125.5) scale(0.966,1)" x="0" y="0" fill="#000000" style="font-family:'Liberation Serif','Times New Roman',serif;font-weight:bold;font-style:italic;font-size:53px">1092.61 nm</text>
<line x1="1269.5" y1="122.3" x2="1380" y2="122.3" stroke="#ff00ff" stroke-width="6"/>
<text transform="translate(1378.6,138) scale(0.96,1)" x="0" y="0" fill="#ff00ff" style="font-family:'Liberation Serif','Times New Roman',serif;font-weight:bold;font-style:italic;font-size:53px">1058.37nm+1065.29nm</text>
<line x1="1406" y1="446.8" x2="1516" y2="446.8" stroke="#0000ff" stroke-width="6"/>
<text transform="translate(1514.8,461.5) scale(0.96,1)" x="0" y="0" fill="#0000ff" style="font-family:'Liberation Serif','Times New Roman',serif;font-weight:bold;font-style:italic;font-size:53px">1065.61 nm</text>
<line x1="1673.5" y1="774.6" x2="1784" y2="774.6" stroke="#ff0000" stroke-width="6"/>
<text transform="translate(1423,790) scale(0.96,1)" x="0" y="0" fill="#ff0000" style="font-family:'Liberation Serif','Times New Roman',serif;font-weight:bold;font-style:italic;font-size:53px">1092.29 nm</text>
<line x1="1686" y1="1108.7" x2="1797" y2="1108.7" stroke="#000000" stroke-width="6"/>
<text transform="translate(1421.6,1124) scale(0.96,1)" x="0" y="0" fill="#000000" style="font-family:'Liberation Serif','Times New Roman',serif;font-weight:bold;font-style:italic;font-size:53px">1092.92 nm</text>
</svg>
</body></html>
